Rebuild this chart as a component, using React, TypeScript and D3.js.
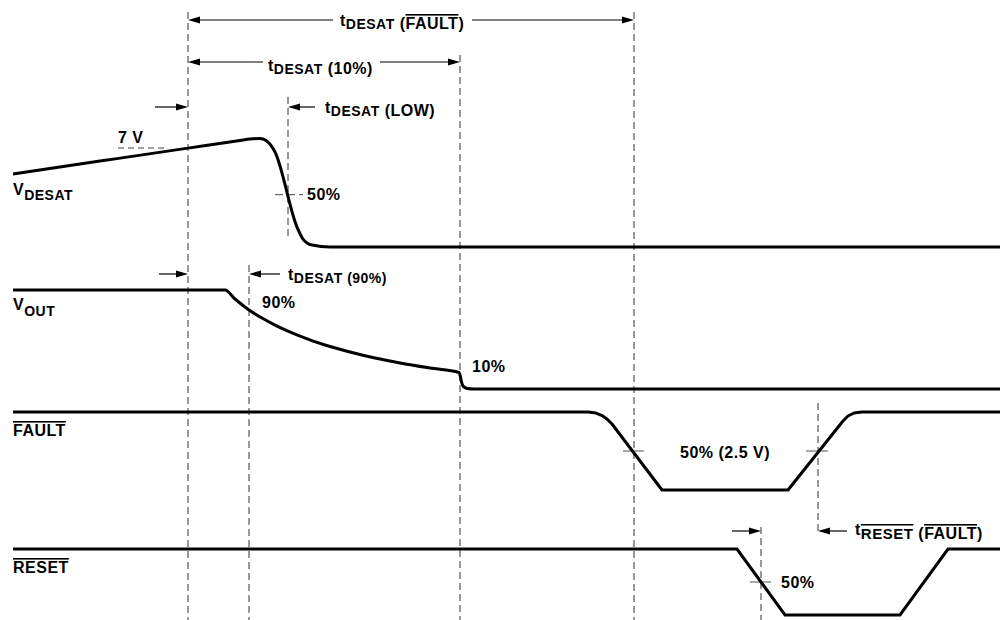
import React from 'react';
import * as d3 from 'd3';

const FONT = "'Liberation Sans', Arial, Helvetica, sans-serif";

// Waveforms: time (horizontal units) and normalized level (0 = low, 1 = high)
const vDesatTime = [13, 100, 188, 240, 250, 260, 268, 275, 297, 303, 312, 330, 1000];
const vDesatLevel = [0.67, 0.788, 0.907, 0.977, 0.991, 0.995, 0.963, 0.872, 0.183, 0.073, 0.018, 0, 0];

const vOutTime = [13, 225, 235, 249, 262, 275, 300, 325, 350, 375, 400, 430, 459, 460.5, 461.5, 463, 467, 474, 1000];
const vOutLevel = [1, 1, 0.909, 0.798, 0.717, 0.646, 0.535, 0.444, 0.374, 0.313, 0.263, 0.212, 0.167, 0.121, 0.071, 0.03, 0.005, 0, 0];

const faultTime = [13, 588, 596, 602, 607, 612, 662, 788, 843, 848, 854, 862, 1000];
const faultLevel = [1, 1, 0.987, 0.955, 0.91, 0.846, 0, 0, 0.885, 0.949, 0.987, 1, 1];

const resetTime = [13, 737, 785, 900, 948, 1000];
const resetLevel = [1, 1, 0, 0, 1, 1];

// Timing reference instants (dashed markers)
const markerTime = [188, 288, 249, 460, 634, 818, 761];

// Threshold levels
const desat7VLevel = 0.908;
const desat50Level = 0.48;
const fault50Level = 0.5;
const reset50Level = 0.5;

// Layout (pixels)
const W = 1000;
const H = 620;
const lanes = {
  vdesat: { low: 247, high: 138 },
  vout: { low: 389, high: 290 },
  fault: { low: 490, high: 412 },
  reset: { low: 615, high: 549 },
};
const markerSpan: [number, number][] = [
  [12, 620], [97, 240], [265, 620], [55, 620], [12, 620], [403, 533], [527, 620],
];

const x = d3.scaleLinear().domain([0, 1000]).range([0, 1000]);
const laneScale = (k: keyof typeof lanes) =>
  d3.scaleLinear().domain([0, 1]).range([lanes[k].low, lanes[k].high]);

const yD = laneScale('vdesat');
const yO = laneScale('vout');
const yF = laneScale('fault');
const yR = laneScale('reset');

function wavePath(t: number[], v: number[], ys: d3.ScaleLinear<number, number>, curve: d3.CurveFactory) {
  const pts = t.map((tt, i) => [tt, v[i]] as [number, number]);
  return d3
    .line<[number, number]>()
    .x((d) => x(d[0]))
    .y((d) => ys(d[1]))
    .curve(curve)(pts) as string;
}

const HEAD = 12;
const HW = 3.5;

function Arrow({ from, to, y }: { from: number; to: number; y: number }) {
  const dir = to > from ? 1 : -1;
  const xe = x(to);
  const xb = xe - dir * HEAD;
  return (
    <g>
      <line x1={x(from)} x2={xb} y1={y} y2={y} stroke="#000" strokeWidth={1.2} />
      <polygon points={`${xe},${y} ${xb},${y - HW} ${xb},${y + HW}`} fill="#000" />
    </g>
  );
}

const txt: React.CSSProperties = {
  fontFamily: FONT,
  fontWeight: 'bold',
  fontSize: 16,
  letterSpacing: 0.5,
  fill: '#000',
};
const over: React.CSSProperties = { textDecoration: 'overline' };

export default function App() {
  return (
    <svg
      width={W}
      height={H}
      viewBox={`0 0 ${W} ${H}`}
      style={{ position: 'absolute', left: 0, top: 0, display: 'block', background: '#fff' }}
    >
      <rect x={0} y={0} width={W} height={H} fill="#fff" />

      {/* dashed markers */}
      {markerTime.map((t, i) => (
        <line
          key={i}
          x1={x(t)}
          x2={x(t)}
          y1={markerSpan[i][0]}
          y2={markerSpan[i][1]}
          stroke="#333"
          strokeWidth={1}
          strokeDasharray="7,4"
        />
      ))}

      {/* threshold ticks */}
      <line x1={x(118)} x2={x(167)} y1={yD(desat7VLevel)} y2={yD(desat7VLevel)} stroke="#444" strokeWidth={1} strokeDasharray="6,4" />
      <line x1={x(275)} x2={x(303)} y1={yD(desat50Level)} y2={yD(desat50Level)} stroke="#444" strokeWidth={1} strokeDasharray="8,4" />
      <line x1={x(623)} x2={x(644)} y1={yF(fault50Level)} y2={yF(fault50Level)} stroke="#555" strokeWidth={1} />
      <line x1={x(806)} x2={x(828)} y1={yF(fault50Level)} y2={yF(fault50Level)} stroke="#555" strokeWidth={1} />
      <line x1={x(750)} x2={x(771)} y1={yR(reset50Level)} y2={yR(reset50Level)} stroke="#555" strokeWidth={1} />

      {/* waveforms */}
      <path d={wavePath(vDesatTime, vDesatLevel, yD, d3.curveMonotoneX)} fill="none" stroke="#000" strokeWidth={3} />
      <path d={wavePath(vOutTime, vOutLevel, yO, d3.curveMonotoneX)} fill="none" stroke="#000" strokeWidth={3} />
      <path d={wavePath(faultTime, faultLevel, yF, d3.curveLinear)} fill="none" stroke="#000" strokeWidth={3} strokeLinejoin="round" />
      <path d={wavePath(resetTime, resetLevel, yR, d3.curveLinear)} fill="none" stroke="#000" strokeWidth={3} />

      {/* timing arrows */}
      <Arrow from={333} to={188} y={20} />
      <Arrow from={472} to={634} y={20} />
      <Arrow from={263} to={188} y={62} />
      <Arrow from={380} to={460} y={62} />
      <Arrow from={155} to={188} y={107} />
      <Arrow from={315} to={288} y={107} />
      <Arrow from={159} to={188} y={274} />
      <Arrow from={280} to={249} y={274} />
      <Arrow from={732} to={761} y={531} />
      <Arrow from={847} to={818} y={531} />

      {/* timing labels */}
      <text x={340} y={26} style={txt}>
        t<tspan fontSize={14} dy={3}>DESAT</tspan>
        <tspan>{' ('}</tspan>
        <tspan style={over}>FAULT</tspan>
        <tspan>)</tspan>
      </text>
      <text x={268} y={71} style={txt}>
        t<tspan fontSize={14} dy={3}>DESAT</tspan>
        <tspan>{' (10%)'}</tspan>
      </text>
      <text x={325} y={113} style={txt}>
        t<tspan fontSize={14} dy={3}>DESAT</tspan>
        <tspan>{' (LOW)'}</tspan>
      </text>
      <text x={288} y={280} style={txt}>
        t<tspan fontSize={14} dy={3}>DESAT</tspan>
        <tspan fontSize={14}>{' (90%)'}</tspan>
      </text>
      <text x={855} y={535} style={txt}>
        t<tspan fontSize={15} dy={4} style={over}>RESET</tspan>
        <tspan>{' ('}</tspan>
        <tspan style={over}>FAULT</tspan>
        <tspan>)</tspan>
      </text>

      {/* signal names */}
      <text x={13} y={195} style={txt}>
        V<tspan fontSize={14} dy={5}>DESAT</tspan>
      </text>
      <text x={13} y={310} style={txt}>
        V<tspan fontSize={14} dy={6}>OUT</tspan>
      </text>
      <text x={13} y={436} style={txt}>
        <tspan style={over}>FAULT</tspan>
      </text>
      <text x={13} y={573} style={txt}>
        <tspan style={over}>RESET</tspan>
      </text>

      {/* level labels */}
      <text x={118} y={143} style={txt}>7 V</text>
      <text x={307} y={200} style={txt}>50%</text>
      <text x={262} y={308} style={txt}>90%</text>
      <text x={472} y={372} style={txt}>10%</text>
      <text x={680} y={458} style={txt}>50% (2.5 V)</text>
      <text x={781} y={588} style={txt}>50%</text>
    </svg>
  );
}
